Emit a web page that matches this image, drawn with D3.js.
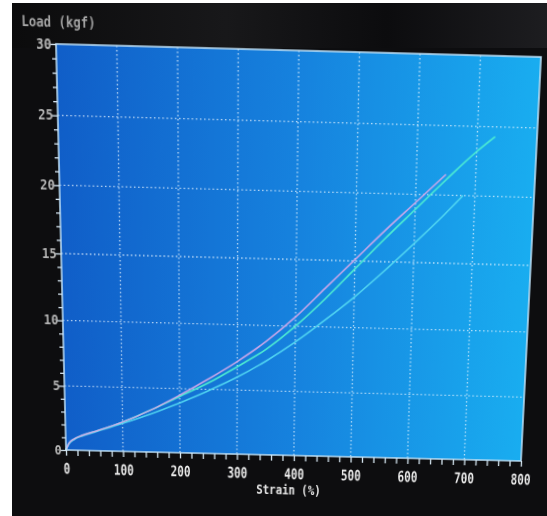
<!DOCTYPE html>
<html>
<head>
<meta charset="utf-8">
<script src="https://cdn.jsdelivr.net/npm/d3@7"></script>
<style>
  html, body { margin: 0; padding: 0; width: 547px; height: 516px; overflow: hidden; background: #fff; }
  #bg { position: absolute; left: 0; top: 0; }
  #screen { position: absolute; left: 0; top: 0; width: 547px; height: 516px; transform-origin: 0 0; filter: blur(0.35px); }
  text { font-family: "DejaVu Sans Mono", monospace; font-weight: bold; }
</style>
</head>
<body>
<svg id="bg" width="547" height="516"></svg>
<div id="screen"></div>
<script>
// strain (%) / load (kgf), three specimens
const strainA = [0, 5, 15, 30, 50, 100, 150, 200, 250, 300, 350, 400, 450, 500, 550, 600, 650];
const loadA   = [0, 0.5, 0.9, 1.2, 1.5, 2.3, 3.3, 4.5, 5.8, 7.2, 8.8, 10.7, 12.9, 15.1, 17.3, 19.4, 21.5];
const strainB = [0, 5, 15, 30, 50, 100, 150, 200, 250, 300, 350, 400, 450, 500, 550, 600, 650, 700, 730];
const loadB   = [0, 0.5, 0.9, 1.2, 1.5, 2.3, 3.3, 4.4, 5.5, 6.8, 8.2, 10.0, 12.1, 14.4, 16.7, 18.9, 21.1, 23.2, 24.3];
const strainC = [0, 5, 15, 30, 50, 100, 150, 200, 250, 300, 350, 400, 450, 500, 550, 600, 650, 680];
const loadC   = [0, 0.45, 0.85, 1.15, 1.45, 2.2, 3.0, 3.9, 4.9, 6.0, 7.3, 8.8, 10.5, 12.3, 14.3, 16.4, 18.6, 20.0];

const xTicks = [0, 100, 200, 300, 400, 500, 600, 700, 800];
const yTicks = [0, 5, 10, 15, 20, 25, 30];

const series = [
  { x: strainC, y: loadC, color: "#52d8f2" },
  { x: strainB, y: loadB, color: "#4ff0d2" },
  { x: strainA, y: loadA, color: "#cfa8ea" }
];

// photo background (dark monitor bezel, white strip at left/top)
const bg = d3.select("#bg");
const defs0 = bg.append("defs");
const bez = defs0.append("linearGradient").attr("id", "bez").attr("x1", 0).attr("y1", 0).attr("x2", 1).attr("y2", 0);
bez.append("stop").attr("offset", 0).attr("stop-color", "#0b0b0c");
bez.append("stop").attr("offset", 0.4).attr("stop-color", "#18181a");
bez.append("stop").attr("offset", 0.7).attr("stop-color", "#0c0c0e");
bez.append("stop").attr("offset", 1).attr("stop-color", "#1d1d20");
bg.append("rect").attr("x", 12).attr("y", 3).attr("width", 535).attr("height", 513).attr("fill", "#0d0d0f");
bg.append("rect").attr("x", 12).attr("y", 3).attr("width", 535).attr("height", 45).attr("fill", "url(#bez)");

// local layout of the screen, later warped to the photographed quad
const px0 = 60, py0 = 46, W = 460, H = 406;
const quad = [[56, 44], [541, 57], [521, 461], [66, 450]]; // TL, TR, BR, BL

const svg = d3.select("#screen").append("svg").attr("width", 547).attr("height", 516);
const defs = svg.append("defs");
const grad = defs.append("linearGradient").attr("id", "plotbg").attr("x1", 0).attr("y1", 0).attr("x2", 1).attr("y2", 0);
grad.append("stop").attr("offset", 0).attr("stop-color", "#105ec8");
grad.append("stop").attr("offset", 0.5).attr("stop-color", "#1682de");
grad.append("stop").attr("offset", 1).attr("stop-color", "#19adf0");

const g = svg.append("g").attr("transform", `translate(${px0},${py0})`);

const x = d3.scaleLinear().domain([0, 800]).range([0, W]);
const y = d3.scaleLinear().domain([0, 30]).range([H, 0]);

g.append("rect").attr("width", W).attr("height", H).attr("fill", "url(#plotbg)");

// dotted grid
g.selectAll(".vgrid")
  .data(xTicks.slice(1, -1))
  .join("line")
    .attr("x1", d => x(d)).attr("x2", d => x(d))
    .attr("y1", 0).attr("y2", H)
    .attr("stroke", "#e8f4ff").attr("stroke-opacity", 0.75)
    .attr("stroke-width", 1.3).attr("stroke-dasharray", "1.5,2.5");
g.selectAll(".hgrid")
  .data(yTicks.slice(1, -1))
  .join("line")
    .attr("x1", 0).attr("x2", W)
    .attr("y1", d => y(d)).attr("y2", d => y(d))
    .attr("stroke", "#e8f4ff").attr("stroke-opacity", 0.75)
    .attr("stroke-width", 1.3).attr("stroke-dasharray", "1.5,2.5");

// curves
const line = d3.line().curve(d3.curveMonotoneX);
series.forEach(s => {
  g.append("path")
    .attr("d", line(s.x.map((v, i) => [x(v), y(s.y[i])])))
    .attr("fill", "none")
    .attr("stroke", s.color)
    .attr("stroke-width", 1.6)
    .attr("stroke-opacity", 0.95);
});

// frame
g.append("rect").attr("width", W).attr("height", H)
  .attr("fill", "none").attr("stroke", "#bfe0f6").attr("stroke-width", 1.5);

// axes with minor ticks
const xAxis = d3.axisBottom(x)
  .tickValues(d3.range(0, 801, 20))
  .tickSize(6).tickPadding(8)
  .tickFormat(d => d % 100 === 0 ? d : "");
const gx = g.append("g").attr("transform", `translate(0,${H})`).call(xAxis);

const yAxis = d3.axisLeft(y)
  .tickValues(d3.range(0, 31, 1))
  .tickSize(4).tickPadding(3)
  .tickFormat(d => d % 5 === 0 ? d : "");
const gy = g.append("g").call(yAxis);

[gx, gy].forEach(a => {
  a.select(".domain").remove();
  a.selectAll(".tick line").attr("stroke", "#d6e6f2").attr("stroke-width", 1.3);
});
gy.selectAll(".tick line").attr("x2", d => d % 5 === 0 ? -6 : -4);
gx.selectAll(".tick text")
  .attr("fill", "#ededed").style("font-size", "16px")
  .attr("transform", "scale(0.7,1)");
gy.selectAll(".tick text")
  .attr("fill", "#b4b4b4").style("font-size", "13.5px")
  .attr("x", -5)
  .attr("transform", "scale(0.88,1)");

// axis titles
const cx = px0 + W / 2 - 5;
svg.append("text")
  .attr("x", cx).attr("y", py0 + H + 42)
  .attr("text-anchor", "middle")
  .attr("fill", "#e6e6e6").style("font-size", "14.5px")
  .attr("transform", `translate(${cx * 0.25},0) scale(0.75,1)`)
  .text("Strain (%)");
svg.append("text")
  .attr("x", 30).attr("y", 30)
  .attr("fill", "#a6a6a6").style("font-size", "14px")
  .attr("transform", "translate(3,0) scale(0.83,1)")
  .text("Load (kgf)");

// projective warp: local plot rect -> photographed quad
function homography(p) {
  const [[x0, y0], [x1, y1], [x2, y2], [x3, y3]] = p;
  const sx = x0 - x1 + x2 - x3, sy = y0 - y1 + y2 - y3;
  const dx1 = x1 - x2, dx2 = x3 - x2, dy1 = y1 - y2, dy2 = y3 - y2;
  const det = dx1 * dy2 - dx2 * dy1;
  const gg = (sx * dy2 - dx2 * sy) / det;
  const hh = (dx1 * sy - sx * dy1) / det;
  return {
    a: x1 - x0 + gg * x1, b: x3 - x0 + hh * x3, c: x0,
    d: y1 - y0 + gg * y1, e: y3 - y0 + hh * y3, f: y0,
    g: gg, h: hh
  };
}
const m = homography(quad);
const r1 = [m.a / W, m.b / H, m.c - m.a * px0 / W - m.b * py0 / H];
const r2 = [m.d / W, m.e / H, m.f - m.d * px0 / W - m.e * py0 / H];
const r3 = [m.g / W, m.h / H, 1 - m.g * px0 / W - m.h * py0 / H];
const mat = [r1[0], r2[0], 0, r3[0], r1[1], r2[1], 0, r3[1], 0, 0, 1, 0, r1[2], r2[2], 0, r3[2]];
d3.select("#screen").style("transform", `matrix3d(${mat.join(",")})`);
</script>
</body>
</html>
